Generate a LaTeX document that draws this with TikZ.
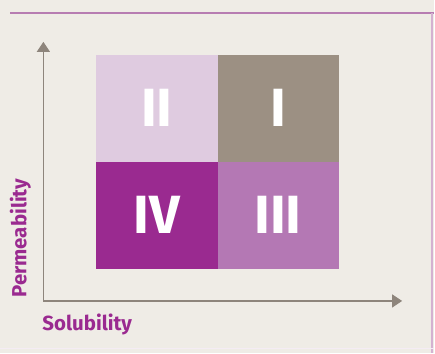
\documentclass[tikz,border=0pt]{standalone}
\usepackage{fontspec}
\setmainfont{Fira Sans}
\usetikzlibrary{arrows.meta}
\definecolor{paper}{HTML}{EFECE6}
\definecolor{rule}{HTML}{B77DB2}
\definecolor{axisgray}{HTML}{8E857C}
\definecolor{plum}{HTML}{9A2A90}
\definecolor{lilac}{HTML}{DFCBE0}
\definecolor{taupe}{HTML}{9C9083}
\definecolor{orchid}{HTML}{B478B4}
\tikzset{
  cell/.style={minimum width=121.5pt, minimum height=107.5pt, inner sep=0pt,
    text=white, font=\fontsize{54}{54}\selectfont\bfseries},
  axis/.style={draw=axisgray, line width=1.2pt, -{Triangle[width=13pt,length=10pt]}},
  axislabel/.style={text=plum, font=\fontsize{20.5}{20.5}\selectfont\bfseries}
}
\begin{document}
\begin{tikzpicture}[x=1pt, y=-1pt]
  \fill[paper] (0,0) rectangle (435,354);
  \draw[rule, line width=2pt] (10,13) -- (435,13);
  \draw[rule!60, line width=1.2pt] (433,13) -- (433,354);
  \draw[rule!15, line width=1pt] (0,349.5) -- (435,349.5);
  % four classes
  \node[cell, fill=lilac] (II) at (157,108.5) {II};
  \node[cell, fill=taupe] (I) at (278.5,108.5) {I};
  \node[cell, fill=plum] (IV) at (157,216) {IV};
  \node[cell, fill=orchid] (III) at (278.5,216) {III};
  % axes
  \coordinate (origin) at (43,302);
  \coordinate (ytip) at (43,42);
  \coordinate (xtip) at (403,302);
  \draw[axis] (origin) -- (ytip);
  \draw[axis] (origin) -- (xtip);
  \node[axislabel, rotate=90] (perm) at (20,239) {Permeability};
  \node[axislabel] (sol) at (87,326) {Solubility};
\end{tikzpicture}
\end{document}
